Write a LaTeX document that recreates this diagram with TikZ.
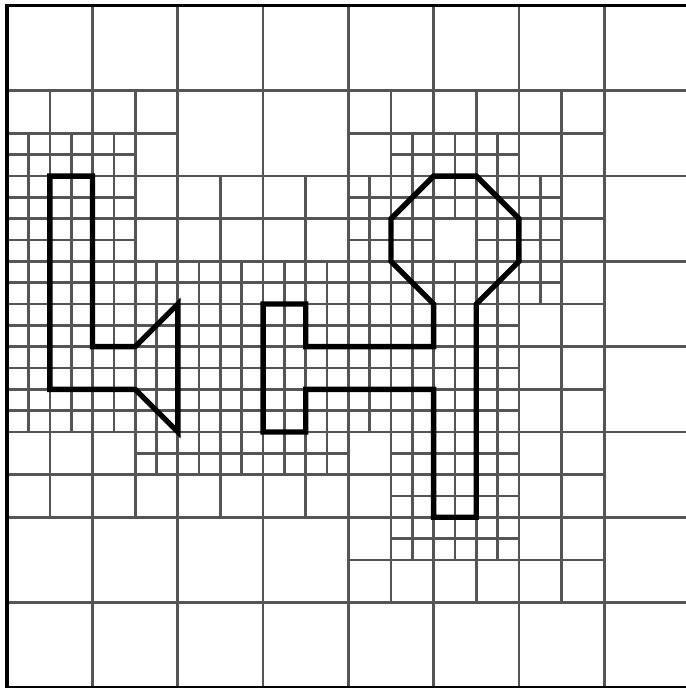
\documentclass[tikz,border=0pt]{standalone}
\usepackage{tikz}
\definecolor{gridgray}{HTML}{555555}

\begin{document}
\begin{tikzpicture}[
  x=0.5cm, y=-0.5cm,
  gridline/.style={draw=gridgray, line width=1.8pt},
  frame/.style={draw=black, line width=2.4pt},
  outline/.style={draw=black, line width=3.6pt, line join=miter}
]
  \clip (-0.34,-0.26) rectangle (31.83,32.01);

  % level 0: coarse cells
  \foreach \i in {1,...,7} {
    \draw[gridline] (4*\i,0) -- (4*\i,32);
    \draw[gridline] (0,4*\i) -- (32,4*\i);
  }

  % level 1: coarse cells split in four
  \foreach \c/\r in {0/1,1/1,4/1,5/1,6/1,
                     0/2,1/2,2/2,3/2,4/2,5/2,6/2,
                     0/3,1/3,2/3,3/3,4/3,5/3,6/3,
                     0/4,1/4,2/4,3/4,4/4,5/4,6/4,
                     0/5,1/5,2/5,3/5,4/5,5/5,6/5,
                     4/6,5/6,6/6}
    \draw[gridline] ({4*\c+2},{4*\r}) -- ++(0,4) ({4*\c},{4*\r+2}) -- ++(4,0);

  % level 2: half cells split in four
  \foreach \c/\r in {0/3,1/3,2/3,9/3,10/3,11/3,
                     0/4,1/4,0/5,1/5,2/4,2/5,
                     8/4,9/4,8/5,9/5,10/4,11/4,11/5,12/4,12/5,
                     12/6,
                     3/10,4/10,5/10,6/10,7/10,9/10,9/11,
                     10/10,11/10,10/11,11/11,
                     9/12,10/12,11/12}
    \draw[gridline] ({2*\c+1},{2*\r}) -- ++(0,2) ({2*\c},{2*\r+1}) -- ++(2,0);
  \foreach \c in {0,...,11}
    \foreach \r in {6,...,9}
      \draw[gridline] ({2*\c+1},{2*\r}) -- ++(0,2) ({2*\c},{2*\r+1}) -- ++(2,0);

  \draw[frame] (0,0) rectangle (32,32);

  % shapes
  \draw[outline] (2,8) -- (4,8) -- (4,16) -- (6,16) -- (8,14) -- (8,20)
    -- (6,18) -- (2,18) -- cycle;
  \draw[outline] (12,14) -- (14,14) -- (14,16) -- (20,16) -- (20,14)
    -- (18,12) -- (18,10) -- (20,8) -- (22,8) -- (24,10) -- (24,12)
    -- (22,14) -- (22,24) -- (20,24) -- (20,18) -- (14,18) -- (14,20)
    -- (12,20) -- cycle;
\end{tikzpicture}
\end{document}
